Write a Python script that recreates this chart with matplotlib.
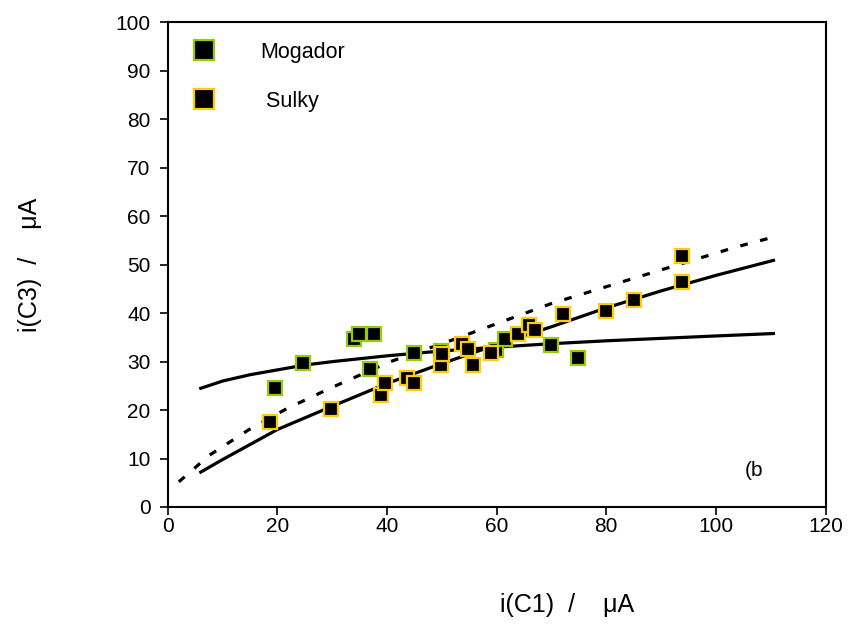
import matplotlib
matplotlib.use("Agg")
import matplotlib.pyplot as plt

plt.rcParams['font.family'] = ['Liberation Sans', 'DejaVu Sans']

# measured points
mogador_x = [19.5, 24.6, 33.9, 34.8, 37.7, 36.8, 44.9, 49.8, 59.8, 61.5, 69.9, 74.8]
mogador_y = [24.5, 29.7, 34.6, 35.7, 35.7, 28.5, 31.7, 32.1, 32.4, 34.6, 33.4, 30.7]

sulky_x = [18.6, 29.7, 38.8, 39.7, 43.7, 44.9, 49.8, 50.0, 53.7, 54.8, 55.6,
           58.9, 63.8, 65.9, 66.9, 72.1, 80.0, 85.1, 93.9, 93.9]
sulky_y = [17.6, 20.3, 23.1, 25.5, 26.6, 25.5, 29.4, 31.5, 33.6, 32.6, 29.4,
           31.7, 35.8, 37.5, 36.5, 39.8, 40.4, 42.7, 46.5, 51.7]

# fitted curves
fit_mogador_x = [6, 10, 15, 20, 25, 30, 40, 45, 50, 60, 70, 80, 90, 100, 110.5]
fit_mogador_y = [24.5, 26.0, 27.3, 28.3, 29.3, 30.0, 31.2, 31.7, 32.2, 33.0, 33.7, 34.3, 34.8, 35.3, 35.8]

fit_sulky_x = [6, 10, 20, 30, 40, 50, 60, 70, 80, 90, 100, 110.5]
fit_sulky_y = [7.2, 9.8, 16.0, 20.8, 25.5, 29.6, 33.5, 37.2, 41.1, 44.6, 47.8, 50.9]

fit_dash_x = [2, 7.6, 14.7, 21.7, 29.6, 40.6, 52, 70, 85, 103.5, 110.8]
fit_dash_y = [5.2, 10.7, 15.9, 20.3, 24.5, 30.0, 34.5, 42.0, 47.2, 53.6, 55.8]

xticks = [0, 20, 40, 60, 80, 100, 120]
yticks = [0, 10, 20, 30, 40, 50, 60, 70, 80, 90, 100]

fig = plt.figure(figsize=(8.5, 6.28), dpi=100)
ax = fig.add_axes([0.1975, 0.1927, 0.7737, 0.7715])

ax.plot(fit_mogador_x, fit_mogador_y, color='black', lw=2.3, zorder=2)
ax.plot(fit_sulky_x, fit_sulky_y, color='black', lw=2.3, zorder=2)
ax.plot(fit_dash_x, fit_dash_y, color='black', lw=2.3, ls=(0, (2.4, 4.0)), zorder=2)

ax.plot(mogador_x, mogador_y, ls='none', marker='s', ms=9.8, mfc='black',
        mec='#99CC00', mew=1.6, zorder=3, label='Mogador')
ax.plot(sulky_x, sulky_y, ls='none', marker='s', ms=9.8, mfc='black',
        mec='#FFCC00', mew=1.6, zorder=3, label=' Sulky')

ax.set_xlim(0, 120)
ax.set_ylim(0, 100)
ax.set_xticks(xticks)
ax.set_yticks(yticks)
ax.tick_params(direction='out', length=5.5, width=1.2, labelsize=15)
ax.tick_params(axis='y', pad=7)
ax.tick_params(axis='x', pad=1.5)
for s in ax.spines.values():
    s.set_linewidth(1.5)

ax.text(107.0, 7.6, '(b', fontsize=15, ha='center', va='center')

ax.legend(loc='upper left', bbox_to_anchor=(0.039, 0.960), frameon=False,
          fontsize=15.5, numpoints=1, handlelength=1.0, handletextpad=2.1,
          labelspacing=1.3, borderpad=0, borderaxespad=0, markerscale=1.45)

fig.text(0.667, 0.037, 'i(C1)  /    \u03bcA', fontsize=18, ha='center', va='center')
fig.text(0.035, 0.578, 'i(C3)  /    \u03bcA', fontsize=18, ha='center', va='center',
         rotation=90)

fig.savefig('out.png', dpi=100)
